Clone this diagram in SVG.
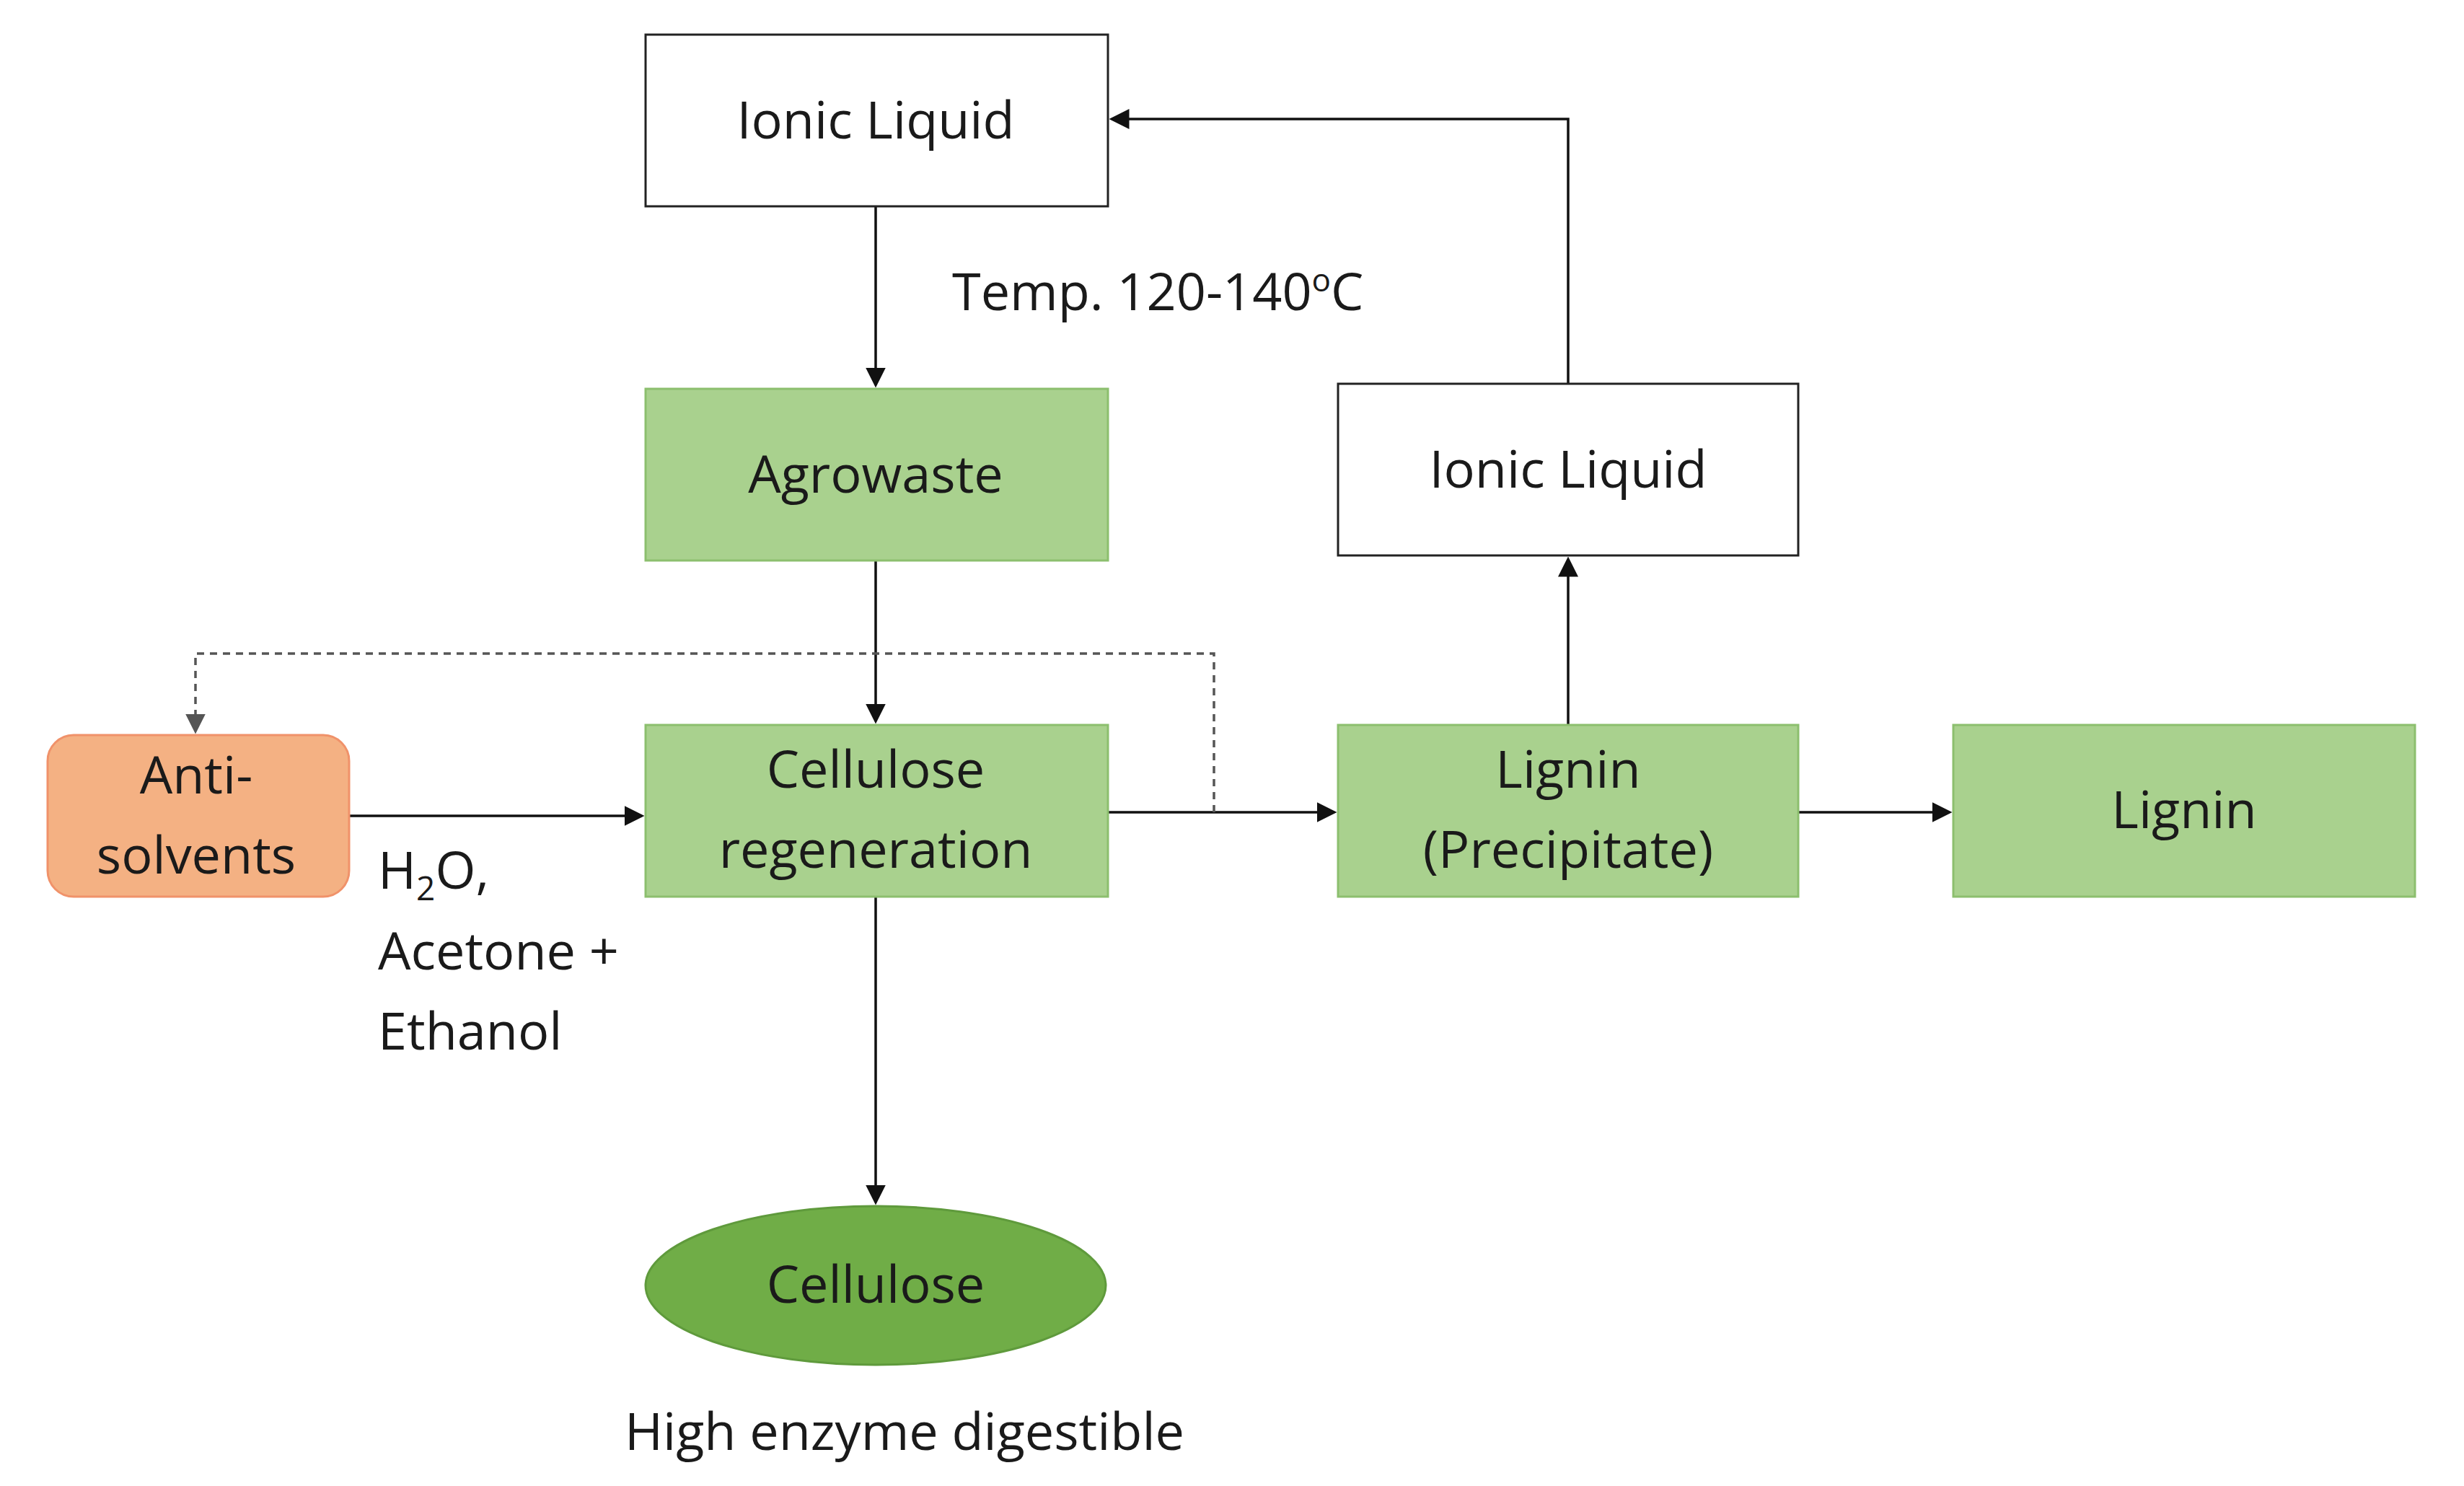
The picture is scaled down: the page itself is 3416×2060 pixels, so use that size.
<svg xmlns="http://www.w3.org/2000/svg" width="3416" height="2060" viewBox="0 0 3416 2060">
<style>
text{font-family:"Open Sans","Liberation Sans",sans-serif;font-size:72px;fill:#1a1a1a;text-anchor:middle}
.w{fill:#fff;stroke:#222;stroke-width:3}
.g{fill:#a9d18e;stroke:#8cbf6e;stroke-width:3}
.c{fill:none;stroke:#111;stroke-width:3.5}
.d{fill:none;stroke:#555;stroke-width:3.5;stroke-dasharray:10 8}
</style>
<defs>
<marker id="a" markerWidth="8" markerHeight="8" refX="7" refY="4" orient="auto" markerUnits="strokeWidth"><path d="M0,0L8,4L0,8Z" fill="#111"/></marker>
<marker id="b" markerWidth="8" markerHeight="8" refX="7" refY="4" orient="auto" markerUnits="strokeWidth"><path d="M0,0L8,4L0,8Z" fill="#555"/></marker>
</defs>
<rect width="3416" height="2060" fill="#fff"/>
<g id="connectors">
<path class="c" d="M1214,286V534" marker-end="url(#a)"/>
<path class="c" d="M1214,777V1000" marker-end="url(#a)"/>
<path class="c" d="M484,1131H890" marker-end="url(#a)"/>
<path class="c" d="M1536,1126H1850" marker-end="url(#a)"/>
<path class="d" d="M1683,1126V906H271V1014" marker-end="url(#b)"/>
<path class="c" d="M2174,1005V775" marker-end="url(#a)"/>
<path class="c" d="M2174,532V165H1541" marker-end="url(#a)"/>
<path class="c" d="M2493,1126H2703" marker-end="url(#a)"/>
<path class="c" d="M1214,1243V1667" marker-end="url(#a)"/>
</g>
<g id="il1"><rect class="w" x="895" y="48" width="641" height="238"/><text x="1214" y="192">Ionic Liquid</text></g>
<g id="agro"><rect class="g" x="895" y="539" width="641" height="238"/><text x="1214" y="683">Agrowaste</text></g>
<g id="regen"><rect class="g" x="895" y="1005" width="641" height="238"/><text x="1214" y="1092">Cellulose</text><text x="1214" y="1203">regeneration</text></g>
<g id="anti"><rect x="66" y="1019" width="418" height="224" rx="36" fill="#f4b183" stroke="#f0926a" stroke-width="3"/><text x="272" y="1100">Anti-</text><text x="272" y="1211">solvents</text></g>
<g id="lp"><rect class="g" x="1855" y="1005" width="638" height="238"/><text x="2174" y="1092">Lignin</text><text x="2174" y="1203">(Precipitate)</text></g>
<g id="lig"><rect class="g" x="2708" y="1005" width="640" height="238"/><text x="3028" y="1148">Lignin</text></g>
<g id="il2"><rect class="w" x="1855" y="532" width="638" height="238"/><text x="2174" y="676">Ionic Liquid</text></g>
<g id="cell"><ellipse cx="1214" cy="1782" rx="319" ry="110" fill="#70ad47" stroke="#5f9a3c" stroke-width="3"/><text x="1214" y="1806">Cellulose</text></g>
<g id="labels">
<text x="1320" y="430" style="text-anchor:start">Temp. 120-140<tspan font-size="44" dy="-26">o</tspan><tspan dy="26">C</tspan></text>
<text x="524" y="1232" style="text-anchor:start">H<tspan font-size="46" dy="16">2</tspan><tspan dy="-16">O,</tspan></text>
<text x="524" y="1344" style="text-anchor:start">Acetone +</text>
<text x="524" y="1455" style="text-anchor:start">Ethanol</text>
<text x="1254" y="2010">High enzyme digestible</text>
</g>
</svg>
